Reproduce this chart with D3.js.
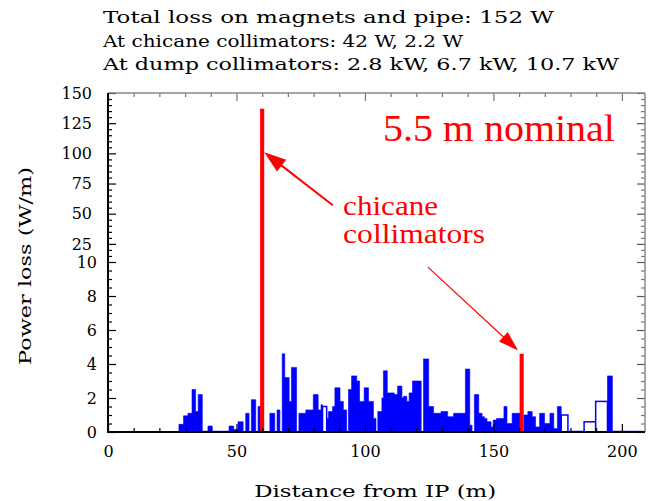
<!DOCTYPE html>
<html><head><meta charset="utf-8">
<script src="https://cdn.jsdelivr.net/npm/d3@7/dist/d3.min.js"></script>
<style>body{margin:0;background:#fff}svg{display:block}</style>
</head><body>
<svg id="c" width="650" height="501"></svg>
<script>
// ---- data ----
const binStart = [27.6,29.4,31.1,32.7,34.1,35.1,36.7,38.9,40.6,47.1,48.9,50.6,53.6,55.8,58.4,
  63.0,65.8,67.8,68.8,70.5,71.4,74.3,77.0,79.9,81.8,82.9,83.5,85.1,85.8,87.4,88.3,90.3,91.6,
  93.6,94.8,96.8,97.9,99.7,101.4,103.3,105.0,106.6,107.2,108.7,111.4,112.7,114.4,115.0,116.3,
  117.2,118.5,122.8,124.8,126.7,129.6,132.2,134.5,135.8,139.1,140.8,142.6,144.3,145.6,146.5,
  147.5,149.1,149.9,151.2,154.1,155.3,157.3,161.9,163.4,165.1,166.4,168.0,169.9,172.0,173.5,
  174.9,176.4,179.0,185.3,189.8,194.4,196.3];
const binEnd = [29.4,31.1,32.7,34.1,35.1,36.7,38.9,40.6,47.1,48.9,50.6,52.6,54.9,57.5,59.3,
  64.9,66.9,68.8,70.5,71.4,73.4,77.0,79.9,81.8,82.9,83.5,85.1,85.8,87.4,88.3,90.3,91.6,92.9,
  94.8,96.8,97.9,99.7,101.4,103.3,104.3,106.6,107.2,108.7,111.4,112.7,114.4,115.0,116.3,117.2,
  118.5,121.9,124.8,126.7,129.6,132.2,134.5,135.8,139.1,140.8,141.7,144.3,145.6,146.5,147.5,
  149.1,149.9,151.2,154.1,155.3,157.3,160.6,163.4,165.1,166.4,168.0,169.9,172.0,173.5,174.9,
  176.4,179.0,185.3,189.8,194.4,196.3,208.0];
const powerLoss = [0.45,0.95,1.1,2.5,1.2,2.2,0.05,0.35,0.05,0.35,0.15,0.6,1.1,1.9,1.5,
  1.1,1.3,4.6,3.2,1.8,3.8,1.1,1.3,2.2,1.3,1.6,1.5,0.8,1.2,1.5,2.6,1.8,1.3,
  2.5,3.3,3.0,1.8,2.6,1.8,0.8,1.2,2.0,3.6,2.3,2.2,2.7,2.0,2.1,1.8,
  2.3,3.0,4.3,1.5,1.1,1.2,0.9,1.1,1.1,3.7,0.4,2.2,1.1,0.9,0.8,
  0.6,0.3,0.7,0.8,1.5,0.5,1.1,1.0,1.2,0.9,0.3,1.1,0.5,1.1,0.2,
  1.5,1.0,0.05,0.6,1.8,3.3,0.05];
const openBin = [0,0,0,0,0,0,0,0,0,0,0,0,0,0,0,
  0,0,0,0,0,0,0,0,0,0,0,1,0,0,0,0,0,0,
  0,0,0,0,0,0,0,0,0,0,0,0,0,0,0,0,
  0,0,0,0,0,0,0,0,0,0,0,0,0,0,0,
  0,0,0,0,0,0,0,0,0,0,0,0,0,0,0,
  0,1,0,1,1,0,0];
const collimatorPos = [60, 161];
const collimatorLoss = [137, 4.6];
const xTicks = [0, 50, 100, 150, 200];
const yTicksLow = [0, 2, 4, 6, 8, 10];
const yTicksHigh = [25, 50, 75, 100, 125, 150];
const titleLines = ["Total loss on magnets and pipe: 152 W",
                    "At chicane collimators: 42 W, 2.2 W",
                    "At dump collimators: 2.8 kW, 6.7 kW, 10.7 kW"];

// ---- scales ----
const svg = d3.select("#c");
const x = d3.scaleLinear().domain([0, 209]).range([108, 645]);
const y = d3.scaleLinear().domain([0, 10, 150]).range([432, 262, 93]);
const serif = "DejaVu Serif";
const times = "Liberation Serif";

// ---- histogram (one continuous stepped area) ----
const bins = binStart.map((s, i) => ({s, e: binEnd[i], v: powerLoss[i], open: openBin[i]}));
const pts = [];
bins.forEach((b, i) => {
  pts.push({p: b.s, v: b.open ? 0 : b.v});
  const next = bins[i + 1];
  if (!next || Math.abs(next.s - b.e) > 1e-6) pts.push({p: b.e, v: 0});
});
svg.append("line")
  .attr("x1", x(binStart[0])).attr("x2", x(binEnd[binEnd.length - 1]))
  .attr("y1", y(0)).attr("y2", y(0)).attr("stroke", "#0000ff").attr("stroke-width", 1.5);
svg.append("path").datum(pts)
  .attr("fill", "#0000ff").attr("stroke", "#0000ff").attr("stroke-width", 0.6)
  .attr("d", d3.area().x(d => x(d.p)).y0(y(0)).y1(d => y(d.v)).curve(d3.curveStepAfter));
svg.append("g").selectAll("rect").data(bins.filter(b => b.open)).join("rect")
  .attr("x", d => x(d.s)).attr("width", d => x(d.e) - x(d.s))
  .attr("y", d => y(d.v)).attr("height", d => y(0) - y(d.v))
  .attr("fill", "#fff").attr("stroke", "#0000ff").attr("stroke-width", 1.5);

// ---- collimator spikes ----
svg.append("g").selectAll("rect").data(collimatorPos).join("rect")
  .attr("x", d => x(d - 0.8)).attr("width", d => x(d + 0.8) - x(d - 0.8))
  .attr("y", (d, i) => y(collimatorLoss[i]))
  .attr("height", (d, i) => y(0) - y(collimatorLoss[i]))
  .attr("fill", "#ff0000");

// ---- axes ----
function style(g, color) {
  g.select(".domain").remove();
  g.selectAll("line").attr("stroke", color).attr("stroke-width", 1.2);
  g.selectAll("text").attr("fill", "#000").attr("font-family", serif).attr("font-size", 16);
}
const minorX = d3.range(10, 210, 10).filter(v => v % 50);
const minorLow = d3.range(0.5, 10, 0.5).filter(v => v % 2);
const minorHigh = d3.range(15, 150, 5).filter(v => v % 25);

svg.append("g").attr("transform", `translate(0,${y(0)})`)
  .call(d3.axisBottom(x).tickValues(xTicks).tickFormat(d3.format("d")).tickSizeInner(-8).tickSizeOuter(0).tickPadding(14))
  .call(g => style(g, "#000"));
svg.append("g").attr("transform", `translate(0,${y(0)})`)
  .call(d3.axisBottom(x).tickValues(minorX).tickFormat("").tickSizeInner(-4).tickSizeOuter(0))
  .call(g => style(g, "#000"));
svg.append("g").attr("transform", `translate(0,${y(150)})`)
  .call(d3.axisTop(x).tickValues(xTicks).tickFormat("").tickSizeInner(-8).tickSizeOuter(0))
  .call(g => style(g, "#777"));
svg.append("g").attr("transform", `translate(0,${y(150)})`)
  .call(d3.axisTop(x).tickValues(minorX).tickFormat("").tickSizeInner(-4).tickSizeOuter(0))
  .call(g => style(g, "#777"));

svg.append("g").attr("transform", `translate(${x(0)},0)`)
  .call(d3.axisLeft(y).tickValues(yTicksLow).tickFormat(d3.format("d")).tickSizeInner(-8).tickSizeOuter(0).tickPadding(11))
  .call(g => style(g, "#000"));
svg.append("g").attr("transform", `translate(${x(0)},0)`)
  .call(d3.axisLeft(y).tickValues(yTicksHigh).tickFormat(d3.format("d")).tickSizeInner(-8).tickSizeOuter(0).tickPadding(16))
  .call(g => style(g, "#000"));
svg.append("g").attr("transform", `translate(${x(0)},0)`)
  .call(d3.axisLeft(y).tickValues(minorLow.concat(minorHigh)).tickFormat("").tickSizeInner(-4).tickSizeOuter(0))
  .call(g => style(g, "#000"));
svg.append("g").attr("transform", `translate(${x(209)},0)`)
  .call(d3.axisRight(y).tickValues(yTicksLow.concat(yTicksHigh)).tickFormat("").tickSizeInner(-8).tickSizeOuter(0))
  .call(g => style(g, "#555"));
svg.append("g").attr("transform", `translate(${x(209)},0)`)
  .call(d3.axisRight(y).tickValues(minorLow.concat(minorHigh)).tickFormat("").tickSizeInner(-4).tickSizeOuter(0))
  .call(g => style(g, "#777"));

// frame
svg.append("line").attr("x1", x(0)).attr("x2", x(209)).attr("y1", y(150)).attr("y2", y(150)).attr("stroke", "#888").attr("stroke-width", 1.5);
svg.append("line").attr("x1", x(209)).attr("x2", x(209)).attr("y1", y(150)).attr("y2", y(0)).attr("stroke", "#888").attr("stroke-width", 1.5);
svg.append("line").attr("x1", x(0)).attr("x2", x(0)).attr("y1", y(150)).attr("y2", y(0) + 1).attr("stroke", "#000").attr("stroke-width", 2);
svg.append("line").attr("x1", x(0) - 1).attr("x2", x(209)).attr("y1", y(0)).attr("y2", y(0)).attr("stroke", "#000").attr("stroke-width", 2);

// ---- axis titles ----
svg.append("text").attr("x", x(104)).attr("y", 497).attr("text-anchor", "middle")
  .attr("font-family", serif).attr("font-size", 17).attr("textLength", 242).attr("lengthAdjust", "spacingAndGlyphs")
  .text("Distance from IP (m)");
svg.append("text").attr("transform", `translate(31,266) rotate(-90)`).attr("text-anchor", "middle")
  .attr("font-family", serif).attr("font-size", 17).attr("textLength", 198).attr("lengthAdjust", "spacingAndGlyphs")
  .text("Power loss (W/m)");

// ---- title lines ----
const titleWidths = [451, 360, 516];
svg.append("g").selectAll("text").data(titleLines).join("text")
  .attr("x", 103).attr("y", (d, i) => 23 + i * 23.5)
  .attr("font-family", serif).attr("font-size", 17)
  .attr("textLength", (d, i) => titleWidths[i]).attr("lengthAdjust", "spacingAndGlyphs")
  .text(d => d);

// ---- annotations ----
const red = "#ff0000";
svg.append("text").attr("font-family", times).attr("fill", red).attr("x", x(107)).attr("y", y(110)).attr("font-size", 38)
  .attr("textLength", 232).attr("lengthAdjust", "spacingAndGlyphs").text("5.5 m nominal");
svg.append("text").attr("font-family", times).attr("fill", red).attr("x", x(91.5)).attr("y", y(49)).attr("font-size", 28)
  .attr("textLength", 95).attr("lengthAdjust", "spacingAndGlyphs").text("chicane");
svg.append("text").attr("font-family", times).attr("fill", red).attr("x", x(91.5)).attr("y", y(25.5)).attr("font-size", 28)
  .attr("textLength", 142).attr("lengthAdjust", "spacingAndGlyphs").text("collimators");

function arrow(x0, y0, x1, y1, w, headL, headW) {
  const dx = x1 - x0, dy = y1 - y0, L = Math.hypot(dx, dy), ux = dx / L, uy = dy / L;
  const bx = x1 - ux * headL, by = y1 - uy * headL;
  svg.append("line").attr("x1", x0).attr("y1", y0).attr("x2", bx + ux * 2).attr("y2", by + uy * 2)
    .attr("stroke", red).attr("stroke-width", w);
  svg.append("path").attr("fill", red)
    .attr("d", `M${x1},${y1}L${bx - uy * headW / 2},${by + ux * headW / 2}L${bx + uy * headW / 2},${by - ux * headW / 2}Z`);
}
arrow(x(87.5), y(57), x(60.8), y(101), 2, 22, 15);
arrow(x(124.5), y(9.7), x(159.6), y(4.8), 1.2, 20, 13);
</script>
</body></html>
